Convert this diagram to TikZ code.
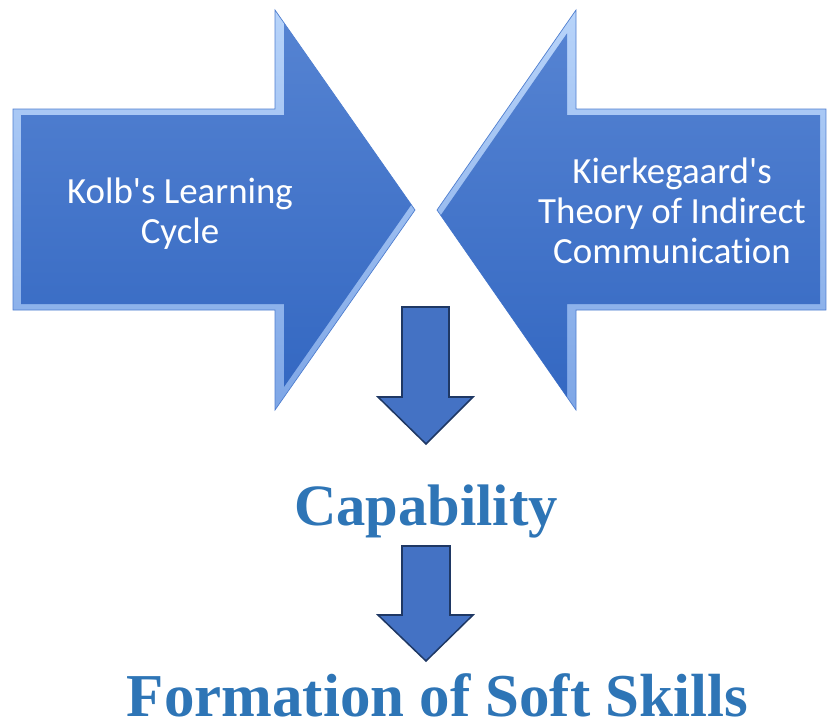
\documentclass[tikz,border=0pt]{standalone}
\usepackage{fontspec}
\setmainfont{Liberation Serif}
\newfontfamily\calibri[Ligatures=NoCommon]{Carlito}
\usepackage{tikz}
\usetikzlibrary{calc}

\definecolor{bevellight}{HTML}{B8D4FA}
\definecolor{bevelmid}{HTML}{7EA6E6}
\definecolor{bevelline}{HTML}{4F7ECF}
\definecolor{facetop}{HTML}{5583D2}
\definecolor{facebottom}{HTML}{3468C2}
\definecolor{downfill}{HTML}{4472C4}
\definecolor{downline}{HTML}{1F3864}
\definecolor{titleblue}{HTML}{2E75B6}

\tikzset{
  bevel/.style={top color=bevellight, bottom color=bevelmid, draw=bevelline, line width=0.6pt},
  face/.style={top color=facetop, bottom color=facebottom},
  downarrow/.style={fill=downfill, draw=downline, line width=1.3pt, line join=miter},
  arrowtext/.style={text=white, align=center, font=\calibri\fontsize{31.5}{34}\selectfont},
  bigtitle/.style={text=titleblue, anchor=base, inner sep=0pt, font=\bfseries\fontsize{#1}{#1}\selectfont}
}

\begin{document}
\begin{tikzpicture}[x=0.03cm, y=-0.03cm]
			%%%%% START %%%%%
			\useasboundingbox (0,0) rectangle (827,723);
			
			% arrow from the left
			\shade[bevel] (13,109) -- (275,109) -- (275,10) -- (415,210) -- (275,410) -- (275,310) -- (13,310) -- cycle;
			\shade[face] (21,115) -- (284,115) -- (284,22.9) -- (411.3,204.8) -- (284,386.9) -- (284,304) -- (21,304) -- cycle;
			\node[arrowtext] (kolb) at (180,214) {Kolb's Learning\\Cycle};
			
			% arrow from the right
			\shade[bevel] (826,109) -- (576,109) -- (576,10) -- (437,210) -- (576,410) -- (576,310) -- (826,310) -- cycle;
			\shade[face] (820,115) -- (567,115) -- (567,33.4) -- (440.7,215.3) -- (567,397) -- (567,304) -- (820,304) -- cycle;
			\node[arrowtext] (kierkegaard) at (672,211) {Kierkegaard's\\Theory of Indirect\\Communication};
			
			% down arrows and results
			\draw[downarrow] (402,307) -- (449,307) -- (449,397) -- (473,397) -- (426,444) -- (378,397) -- (402,397) -- cycle;
			\node[bigtitle=50pt] (capability) at (426,525) {Capability};
			
			\draw[downarrow] (402,546) -- (450,546) -- (450,615) -- (473,615) -- (426,661) -- (378,615) -- (402,615) -- cycle;
			\node[bigtitle=52pt] (softskills) at (437.5,716) {Formation of Soft Skills};
			
			%%%%% END %%%%%
\end{tikzpicture}
\end{document}
